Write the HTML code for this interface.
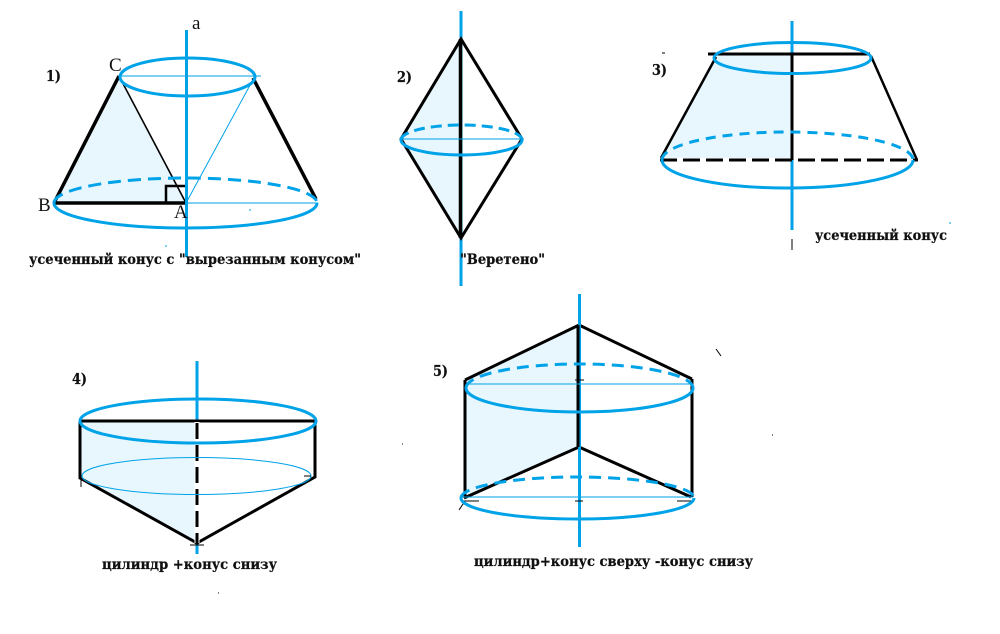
<!DOCTYPE html>
<html>
<head>
<meta charset="utf-8">
<style>
html,body{margin:0;padding:0;background:#fff;}
svg{display:block;}
.s{fill:#e8f7fe;stroke:none;}
.k{stroke:#000;fill:none;stroke-linecap:butt;}
.b{stroke:#00a2e8;fill:none;}
.t{font-family:"DejaVu Serif","Liberation Serif",serif;font-weight:bold;font-size:14px;fill:#111;stroke:#111;stroke-width:.25;}
.n{font-family:"DejaVu Serif","Liberation Serif",serif;font-weight:bold;font-size:15px;fill:#111;stroke:#111;stroke-width:.25;}
.l{font-family:"Liberation Serif",serif;font-size:19px;fill:#111;}
</style>
</head>
<body>
<svg width="1000" height="634" viewBox="0 0 1000 634" xmlns="http://www.w3.org/2000/svg">
<rect width="1000" height="634" fill="#fff"/>

<!-- Figure 1 -->
<polygon class="s" points="119,76 54,203 186,203"/>
<path class="k" stroke-width="3.5" d="M119,76 L54,203"/>
<path class="k" stroke-width="3.5" d="M54,203 H186"/>
<path class="k" stroke-width="1.6" d="M119,76 L186,203"/>
<path class="k" stroke-width="3.5" d="M253,78 L316,199"/>
<path class="k" stroke-width="2.5" d="M166,203 V186 H186"/>
<path class="b" stroke-width="1" d="M120,76 H261 M186,203 L255,76 M186,203 H318"/>
<path class="b" stroke-width="3" d="M120,77 A67.5,19 0 0 1 255,77 A67.5,19 0 0 1 120,77 Z"/>
<path class="b" stroke-width="3" d="M54,203 A131.5,25 0 0 0 317,203"/>
<path class="b" stroke-width="3" stroke-dasharray="13,7" d="M54,203 A131.5,25 0 0 1 317,203"/>
<path class="b" stroke-width="3" d="M186.5,30 V257"/>
<text class="l" x="192" y="29">a</text>
<text class="l" x="109" y="71">C</text>
<text class="l" x="38" y="211">B</text>
<text class="l" x="174" y="218">A</text>
<text class="n" x="46" y="81" textLength="15" lengthAdjust="spacingAndGlyphs">1)</text>
<text class="t" x="29" y="264" textLength="332" lengthAdjust="spacingAndGlyphs">усеченный конус с "вырезанным конусом"</text>

<!-- Figure 2 -->
<polygon class="s" points="461,39 401,139 461,238"/>
<path class="b" stroke-width="3" d="M461,11 V286"/>
<path class="k" stroke-width="3" d="M461,39 L401,139 L461,238 L522,139 Z"/>
<path class="k" stroke-width="3.5" d="M460.5,39 V238"/>
<path class="b" stroke-width="1" d="M401,139 H522"/>
<path class="b" stroke-width="3" d="M401,140 A60.5,15 0 0 0 522,140"/>
<path class="b" stroke-width="3" stroke-dasharray="11,6" d="M401,140 A60.5,15 0 0 1 522,140"/>
<text class="n" x="397" y="82" textLength="15" lengthAdjust="spacingAndGlyphs">2)</text>
<text class="t" x="460" y="264" textLength="85" lengthAdjust="spacingAndGlyphs">"Веретено"</text>

<!-- Figure 3 -->
<polygon class="s" points="716,55 792,55 792,158 662,158"/>
<path class="b" stroke-width="3" d="M792,21 V230"/>
<path class="k" stroke-width="1" d="M792,239 V250 M662,53 H665"/>
<path class="k" stroke-width="2.5" d="M716,57 L661,158"/>
<path class="k" stroke-width="2.5" d="M871,56 L917,160"/>
<path class="k" stroke-width="3" d="M708,54 H870"/>
<path class="k" stroke-width="3" d="M792,54 V160"/>
<path class="k" stroke-width="3" stroke-dasharray="17,6" d="M660,160 H918"/>
<path class="b" stroke-width="3" d="M714,58 A78.5,15.5 0 0 1 871,58 A78.5,15.5 0 0 1 714,58 Z"/>
<path class="b" stroke-width="3" d="M662,160 A125.5,28 0 0 0 913,160"/>
<path class="b" stroke-width="3" stroke-dasharray="10,7" d="M662,160 A125.5,28 0 0 1 913,160"/>
<text class="n" x="652" y="75" textLength="15" lengthAdjust="spacingAndGlyphs">3)</text>
<text class="t" x="815" y="240" textLength="132" lengthAdjust="spacingAndGlyphs">усеченный конус</text>

<!-- Figure 4 -->
<polygon class="s" points="80,421 197,421 197,543 81,478"/>
<path class="b" stroke-width="3" d="M197,361 V554"/>
<path class="k" stroke-width="3" d="M80,421 H316"/>
<path class="k" stroke-width="3" d="M80,421 V478 L197,543 L315,477 V421"/>
<path d="M197,422 V543" stroke="#fff" stroke-width="5" fill="none"/>
<path class="k" stroke-width="3" stroke-dasharray="16,6" d="M197,423 V543"/>
<path class="b" stroke-width="1" d="M82,476 A114.5,18.5 0 0 1 311,476 A114.5,18.5 0 0 1 82,476 Z"/>
<path class="b" stroke-width="3" d="M80,421 A118,22 0 0 1 316,421 A118,22 0 0 1 80,421 Z"/>
<path class="k" stroke-width="1" d="M81,480 V487 M190,545 H204 M304,476 H311"/>
<text class="n" x="72" y="384" textLength="15" lengthAdjust="spacingAndGlyphs">4)</text>
<text class="t" x="102" y="569" textLength="175" lengthAdjust="spacingAndGlyphs">цилиндр +конус снизу</text>

<!-- Figure 5 -->
<polygon class="s" points="465,380 579,325 579,447 465,498"/>
<path class="k" stroke-width="3" d="M465,380 L579,325 L692,379"/>
<path class="k" stroke-width="3" d="M465,380 V498 M692,379 V497"/>
<path class="k" stroke-width="3" d="M464,498 L579,447 L691,497"/>
<path class="b" stroke-width="3" d="M579.5,294 V547"/>
<path class="k" stroke-width="3" d="M578,325 V447"/>
<path class="k" stroke-width="1" d="M575,380 H584 M575,501 H583 M464,501 H479 M677,501 H692 M459,510 L465,501 M716,349 L721,356"/>
<path class="b" stroke-width="1" d="M467,384 H692 M462,497 H693"/>
<path class="b" stroke-width="3" d="M466,388 A113.5,24 0 0 0 693,388"/>
<path class="b" stroke-width="3" stroke-dasharray="12,7" d="M466,388 A113.5,24 0 0 1 693,388"/>
<path class="b" stroke-width="3" d="M461,498 A116.5,21 0 0 0 694,498"/>
<path class="b" stroke-width="3" stroke-dasharray="12,7" d="M461,498 A116.5,21 0 0 1 694,498"/>
<text class="n" x="433" y="376" textLength="15" lengthAdjust="spacingAndGlyphs">5)</text>
<text class="t" x="474" y="566" textLength="279" lengthAdjust="spacingAndGlyphs">цилиндр+конус сверху -конус снизу</text>

<!-- Specks -->
<path class="k" stroke-width="1" d="M402,444 H403 M772,435 H773 M218,593 H219"/>
<path class="b" stroke-width="1" d="M165,246 H167 M249,210 H251 M950,222 V224"/>
</svg>
</body>
</html>
